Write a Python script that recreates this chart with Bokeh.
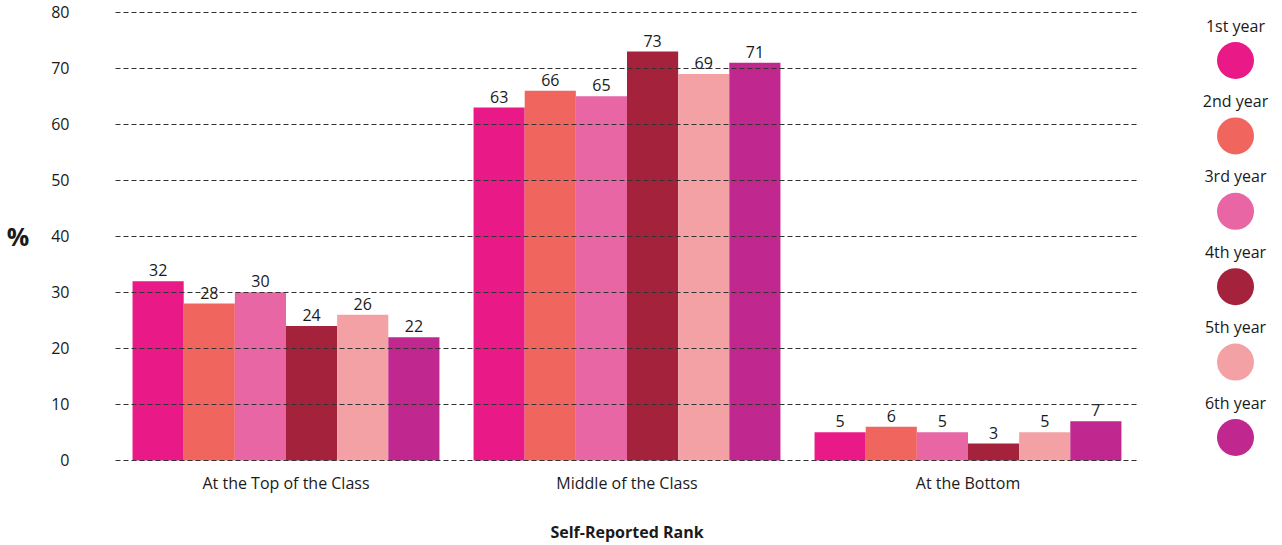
from bokeh.plotting import figure
from bokeh.models import ColumnDataSource, FactorRange, Range1d
from bokeh.transform import dodge
from bokeh.layouts import row
from bokeh.core.properties import value
from bokeh.embed import file_html
from bokeh.resources import INLINE

categories = ["At the Top of the Class", "Middle of the Class", "At the Bottom"]
years = ["1st year", "2nd year", "3rd year", "4th year", "5th year", "6th year"]
colors = ["#E91A87", "#F0665F", "#E766A3", "#A4223B", "#F4A1A6", "#C0288F"]
year1 = [32, 63, 5]
year2 = [28, 66, 6]
year3 = [30, 65, 5]
year4 = [24, 73, 3]
year5 = [26, 69, 5]
year6 = [22, 71, 7]
series = [year1, year2, year3, year4, year5, year6]
y_ticks = [0, 10, 20, 30, 40, 50, 60, 70, 80]

FONT = "Open Sans"
TXT = "#1a1a1a"

p = figure(x_range=FactorRange(*categories), y_range=Range1d(-0.2, 80.5),
           frame_width=1023, frame_height=452,
           min_border_left=115, min_border_right=42, min_border_top=9, min_border_bottom=84,
           toolbar_location=None, output_backend="svg")
p.outline_line_color = None
p.x_range.range_padding = 0
p.x_range.group_padding = 0

bw = 0.15
for i, (name, vals, col) in enumerate(zip(years, series, colors)):
    off = (i - 2.5) * bw
    src = ColumnDataSource(dict(cat=categories, v=vals, t=[str(v) for v in vals]))
    p.vbar(x=dodge("cat", off, range=p.x_range), top="v", width=bw, source=src,
           fill_color=col, line_color=None)
    p.text(x=dodge("cat", off, range=p.x_range), y="v", text="t", source=src,
           text_align="center", text_baseline="bottom", y_offset=-5,
           text_font_size="16px", text_color=TXT, text_font=value(FONT))

p.xgrid.visible = False
p.ygrid.ticker = y_ticks
p.ygrid.grid_line_color = "#333333"
p.ygrid.grid_line_dash = "5 3"
p.ygrid.grid_line_width = 1
p.ygrid.level = "overlay"

p.yaxis.ticker = y_ticks
p.yaxis.axis_line_color = None
p.yaxis.major_tick_line_color = None
p.yaxis.minor_tick_line_color = None
p.yaxis.major_label_text_font = FONT
p.yaxis.major_label_text_font_size = "16px"
p.yaxis.major_label_text_color = TXT
p.yaxis.major_label_standoff = 40
p.yaxis.axis_label = "%"
p.yaxis.axis_label_orientation = "horizontal"
p.yaxis.axis_label_text_font = FONT
p.yaxis.axis_label_text_font_style = "bold"
p.yaxis.axis_label_text_font_size = "25px"
p.yaxis.axis_label_text_color = TXT
p.yaxis.axis_label_standoff = 19

p.xaxis.axis_line_color = None
p.xaxis.major_tick_line_color = None
p.xaxis.minor_tick_line_color = None
p.xaxis.major_label_text_font = FONT
p.xaxis.major_label_text_font_size = "16px"
p.xaxis.major_label_text_color = TXT
p.xaxis.major_label_standoff = 4
p.xaxis.axis_label = "Self-Reported Rank"
p.xaxis.axis_label_text_font = FONT
p.xaxis.axis_label_text_font_style = "bold"
p.xaxis.axis_label_text_font_size = "16px"
p.xaxis.axis_label_text_color = TXT
p.xaxis.axis_label_standoff = 24

# legend panel (y range expressed in screen pixels of the shared frame band)
leg = figure(frame_width=102, frame_height=452, x_range=Range1d(0, 102), y_range=Range1d(461, 9),
             toolbar_location=None, output_backend="svg",
             min_border_left=0, min_border_right=0, min_border_top=9, min_border_bottom=84)
leg.outline_line_color = None
leg.axis.visible = False
leg.grid.visible = False
step = 75.4
ty = [25 + step * i for i in range(len(years))]
cy = [t + 35 for t in ty]
lsrc = ColumnDataSource(dict(x=[55] * len(years), ty=ty, cy=cy, name=years, col=colors))
leg.scatter(x="x", y="cy", size=37, fill_color="col", line_color=None, source=lsrc)
leg.text(x="x", y="ty", text="name", source=lsrc, text_align="center", text_baseline="middle",
         text_font_size="16px", text_color=TXT, text_font=value(FONT))

layout = row(p, leg)
open("out.html", "w").write(file_html(layout, INLINE))
